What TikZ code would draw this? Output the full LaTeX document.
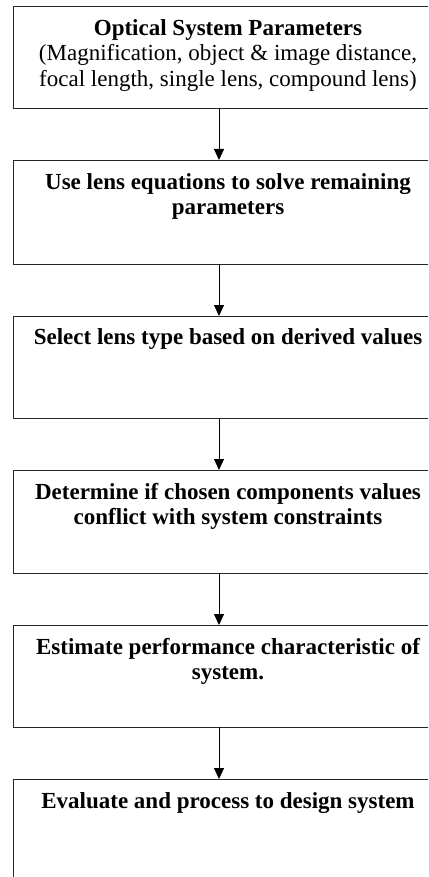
\documentclass[tikz,border=0pt]{standalone}
\usepackage{fontspec}
\setmainfont{Liberation Serif}
\usetikzlibrary{arrows.meta}
\tikzset{
  boxstyle/.style={draw=black!85, line width=1pt, rectangle, minimum width=440pt, inner sep=0pt},
  txt/.style={anchor=north, inner sep=0pt, align=center, font=\fontsize{23}{25.8}\selectfont\bfseries},
  conn/.style={line width=1pt, -{Triangle[width=10pt,length=11pt]}}
}
\begin{document}
\begin{tikzpicture}[x=1pt,y=-1pt]
\useasboundingbox (0,0) rectangle (428,877);
\clip (0,0) rectangle (428,877);
% boxes
\node[boxstyle, minimum height=102pt, anchor=north west] (b1) at (12.5,6) {};
\node[boxstyle, minimum height=104pt, anchor=north west] (b2) at (12.5,160) {};
\node[boxstyle, minimum height=102pt, anchor=north west] (b3) at (12.5,316) {};
\node[boxstyle, minimum height=103pt, anchor=north west] (b4) at (12.5,470) {};
\node[boxstyle, minimum height=102pt, anchor=north west] (b5) at (12.5,625) {};
\node[boxstyle, minimum height=120pt, anchor=north west] (b6) at (12.5,779) {};
% texts
\node[txt] (t1) at (228,16.9) {\strut Optical System Parameters\\\mdseries (Magnification, object \& image distance,\\\mdseries focal length, single lens, compound lens)};
\node[txt] (t2) at (228,170.9) {\strut Use lens equations to solve remaining\\parameters};
\node[txt] (t3) at (228,326.1) {\strut Select lens type based on derived values};
\node[txt] (t4) at (228,480.9) {\strut Determine if chosen components values\\conflict with system constraints};
\node[txt] (t5) at (228,635.9) {\strut Estimate performance characteristic of\\system.};
\node[txt] (t6) at (228,789.9) {\strut Evaluate and process to design system};
% connectors
\coordinate (a1) at (219,108);
\coordinate (a2) at (219,264);
\coordinate (a3) at (219,418);
\coordinate (a4) at (219,573);
\coordinate (a5) at (219,727);
\draw[conn] (a1) -- (a1 |- b2.north);
\draw[conn] (a2) -- (a2 |- b3.north);
\draw[conn] (a3) -- (a3 |- b4.north);
\draw[conn] (a4) -- (a4 |- b5.north);
\draw[conn] (a5) -- (a5 |- b6.north);
\end{tikzpicture}
\end{document}
